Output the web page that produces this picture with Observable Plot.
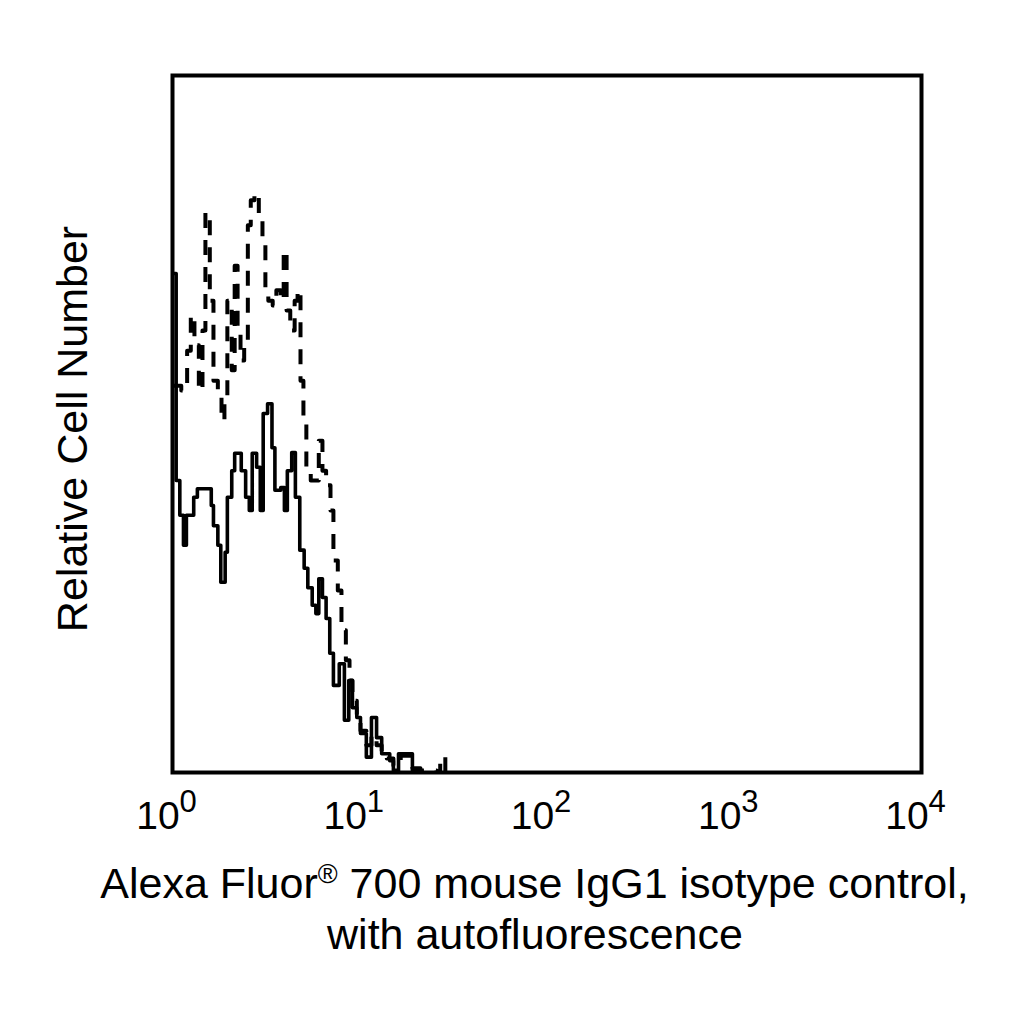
<!DOCTYPE html>
<html>
<head>
<meta charset="utf-8">
<script src="https://cdn.jsdelivr.net/npm/d3@7"></script>
<script src="https://cdn.jsdelivr.net/npm/@observablehq/plot@0.6"></script>
<style>
  html, body { margin: 0; padding: 0; background: #fff; }
  #chart svg { display: block; }
</style>
</head>
<body>
<div id="chart"></div>
<script>
// Histogram channels (256 channels per decade) and relative cell counts (top of frame = 100)
const solidChannel = [0,5,10,15,19,29,34,53,56,62,66,72,75,81,85,94,100,105,109,115,120,124,130,136,140,148,153,157,163,168,174,180,185,191,196,200,205,210,215,220,228,235,241,246,252,257,265,272,279,286,297,302,309,328,336];
const solidCount   = [71.6,41.9,36.9,32.6,36.9,39.5,40.7,38.3,35.4,32.6,27.3,31.6,39.5,43.3,45.8,43.3,39.5,37.6,45.8,43.8,37.6,51.5,52.9,46.6,40.5,40.9,37.6,43.3,45.9,39.5,31.9,29.3,26.5,24.0,22.8,27.8,25.1,22.1,17.1,12.5,15.6,7.5,13.2,9.3,7.9,5.6,2.2,7.9,5.0,2.7,1.7,0.3,2.7,0.3,0];

const dashedChannel = [0,12,20,25,30,36,41,45,51,56,62,67,71,75,81,85,89,93,98,103,107,112,118,123,127,131,137,142,148,152,156,161,167,171,175,179,183,189,200,205,210,216,220,226,231,237,242,246,252,257,265,272,279,286,293,302,312,328,339,361,366,373];
const dashedCount   = [55.5,54.8,60.5,65.6,61.3,54.8,63.4,80.3,67.7,56.2,54.1,50.5,53.4,67.7,57.7,72.7,63.4,59.1,62.0,78.5,82.1,83.1,79.9,76.3,69.2,67.7,67.0,69.2,67.7,74.9,66.3,63.4,67.7,69.2,56.2,50.5,43.3,41.9,47.6,43.3,41.2,37.6,30.4,26.1,20.4,16.1,13.2,10.3,8.2,6.0,3.9,5.3,3.9,2.4,2.0,1.0,2.4,0.6,0.3,0,2.2,0];

const channelsPerDecade = 256;
const tickValues = [1, 10, 100, 1000, 10000];
const tickBase = ["10", "10", "10", "10", "10"];
const tickExp = ["0", "1", "2", "3", "4"];

const xLabelLine1 = "Alexa Fluor";
const xLabelReg = "®";
const xLabelLine1b = " 700 mouse IgG1 isotype control,";
const xLabelLine2 = "with autofluorescence";
const yLabel = "Relative Cell Number";

const toRows = (ch, ct) => ch.map((c, i) => ({x: Math.pow(10, c / channelsPerDecade), y: ct[i]}));
const solid = toRows(solidChannel, solidCount);
const dashed = toRows(dashedChannel, dashedCount);
const ticks = tickValues.map((v, i) => ({v, base: tickBase[i], exp: tickExp[i]}));

const font = "'Liberation Sans', Arial, Helvetica, sans-serif";

const plot = Plot.plot({
  width: 1024,
  height: 1024,
  marginLeft: 172,
  marginRight: 103,
  marginTop: 75,
  marginBottom: 252,
  style: {fontFamily: font, background: "#fff", overflow: "visible"},
  x: {type: "log", domain: [1, 10000], axis: null},
  y: {domain: [0, 100], axis: null},
  marks: [
    Plot.line(dashed, {x: "x", y: "y", curve: "step-after", stroke: "black", strokeWidth: 4, strokeDasharray: "15,12", strokeLinecap: "butt", clip: true}),
    Plot.line(solid, {x: "x", y: "y", curve: "step-after", stroke: "black", strokeWidth: 3.6, clip: true}),
    Plot.frame({stroke: "black", strokeWidth: 4}),
    Plot.text(ticks, {x: "v", text: "base", frameAnchor: "bottom", dy: 44, dx: -6, lineAnchor: "middle", textAnchor: "middle", fontSize: 39, fill: "black"})
  ]
});

document.getElementById("chart").appendChild(plot);

const svg = d3.select(plot);
// superscript exponents on the tick labels
svg.selectAll('g[aria-label="text"] text').each(function(d, i) {
  d3.select(this).append("tspan")
    .attr("dy", -17)
    .attr("font-size", 31)
    .text(ticks[i].exp);
});

// x-axis title (two lines)
const t1 = svg.append("text")
  .attr("x", 534.5).attr("y", 898)
  .attr("text-anchor", "middle")
  .attr("font-family", font).attr("font-size", 43).attr("fill", "black");
t1.append("tspan").text(xLabelLine1);
t1.append("tspan").attr("dy", -15).attr("font-size", 27).text(xLabelReg);
t1.append("tspan").attr("dy", 15).text(xLabelLine1b);

svg.append("text")
  .attr("x", 535).attr("y", 949)
  .attr("text-anchor", "middle")
  .attr("font-family", font).attr("font-size", 43).attr("fill", "black")
  .text(xLabelLine2);

// y-axis title
svg.append("text")
  .attr("transform", "translate(87,429) rotate(-90)")
  .attr("text-anchor", "middle")
  .attr("font-family", font).attr("font-size", 43).attr("fill", "black")
  .text(yLabel);
</script>
</body>
</html>
